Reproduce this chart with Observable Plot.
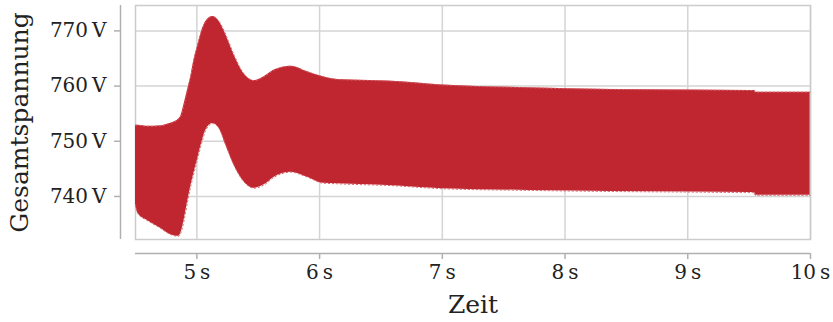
<!DOCTYPE html>
<html><head><meta charset="utf-8">
<script src="https://cdn.jsdelivr.net/npm/d3@7"></script>
<script src="https://cdn.jsdelivr.net/npm/@observablehq/plot@0.6"></script>
<style>body{margin:0;background:#fff}</style>
</head><body><div id="chart"></div>
<script>
// Zeit in s
const zeit = [4.50, 4.52, 4.60, 4.707, 4.76, 4.813, 4.85, 4.87, 4.897, 4.924, 4.951, 4.978, 5.006, 5.038, 5.073, 5.128, 5.182, 5.236, 5.304, 5.372, 5.467, 5.548, 5.63, 5.766, 5.901, 6.03, 6.146, 6.254, 6.553, 7.003, 7.7, 8.371, 9.0, 9.511, 9.545, 9.55, 9.997];
// obere Hüllkurve der Gesamtspannung in V
const oben = [752.9, 752.9, 752.7, 752.8, 753.1, 753.5, 754.0, 754.6, 756.8, 759.3, 761.8, 764.9, 767.3, 769.9, 771.7, 772.6, 771.7, 769.3, 765.6, 762.6, 761.0, 761.7, 762.9, 763.6, 762.6, 761.7, 761.2, 761.1, 760.9, 760.2, 759.7, 759.4, 759.3, 759.2, 759.2, 758.9, 758.9];
// untere Hüllkurve der Gesamtspannung in V
const unten = [738.5, 736.9, 735.6, 734.2, 733.4, 732.9, 732.8, 733.4, 735.8, 739.0, 741.9, 744.4, 746.8, 749.6, 752.0, 753.2, 752.3, 749.3, 745.6, 743.0, 741.5, 742.1, 743.5, 744.4, 743.5, 742.4, 742.3, 742.2, 742.0, 741.4, 741.1, 740.9, 740.8, 740.7, 740.7, 740.2, 740.2];
const xTicks = [5, 6, 7, 8, 9, 10];
const yTicks = [740, 750, 760, 770];
const xDomain = [4.5, 10];
const yDomain = [732.2, 774.6];

const data = zeit.map((t, i) => ({t, hi: oben[i], lo: unten[i]}));
const font = "DejaVu Serif";
const gridColor = "#d4d4d4";
const axisColor = "#b0b0b0";

const chart = Plot.plot({
  width: 833,
  height: 322,
  marginLeft: 135,
  marginRight: 23,
  marginTop: 5,
  marginBottom: 83,
  style: {fontFamily: font, fontSize: "20px", color: "#222", background: "#fff"},
  x: {domain: xDomain, ticks: xTicks},
  y: {domain: yDomain, ticks: yTicks},
  marks: [
    Plot.gridX(xTicks, {stroke: gridColor, strokeOpacity: 1, strokeWidth: 1.5}),
    Plot.gridY(yTicks, {stroke: gridColor, strokeOpacity: 1, strokeWidth: 1.5}),
    Plot.frame({stroke: "#cccccc", strokeWidth: 1.5}),
    Plot.areaY(data, {x: "t", y1: "lo", y2: "hi", fill: "#c0262f", curve: "monotone-x"}),
    Plot.lineY(data, {x: "t", y: "hi", stroke: "#d9646b", strokeWidth: 1, strokeDasharray: "1.5,2.5", curve: "monotone-x"}),
    Plot.lineY(data, {x: "t", y: "lo", stroke: "#d9646b", strokeWidth: 1, strokeDasharray: "1.5,2.5", curve: "monotone-x"}),
    Plot.ruleY([yDomain[0]], {dy: 14, stroke: axisColor, strokeWidth: 1.5}),
    Plot.ruleX([xDomain[0]], {dx: -15, stroke: axisColor, strokeWidth: 1.5}),
    Plot.axisX(xTicks, {dy: 14, tickSize: 6, tickPadding: 5, stroke: axisColor, strokeWidth: 1.5, fill: "#222", fontSize: 20, tickFormat: d => d + "\u2009s", label: null}),
    Plot.axisY(yTicks, {dx: -15, tickSize: 6, tickPadding: 8, stroke: axisColor, strokeWidth: 1.5, fill: "#222", fontSize: 20, tickFormat: d => d + "\u2009V", label: null}),
    Plot.text(["Gesamtspannung"], {frameAnchor: "left", dx: -116, rotate: -90, fontSize: 25, textAnchor: "middle", lineAnchor: "middle", fill: "#222"}),
    Plot.text(["Zeit"], {frameAnchor: "bottom", dy: 65, fontSize: 25, textAnchor: "middle", lineAnchor: "middle", fill: "#222"})
  ]
});
document.getElementById("chart").append(chart);
</script>
</body></html>
